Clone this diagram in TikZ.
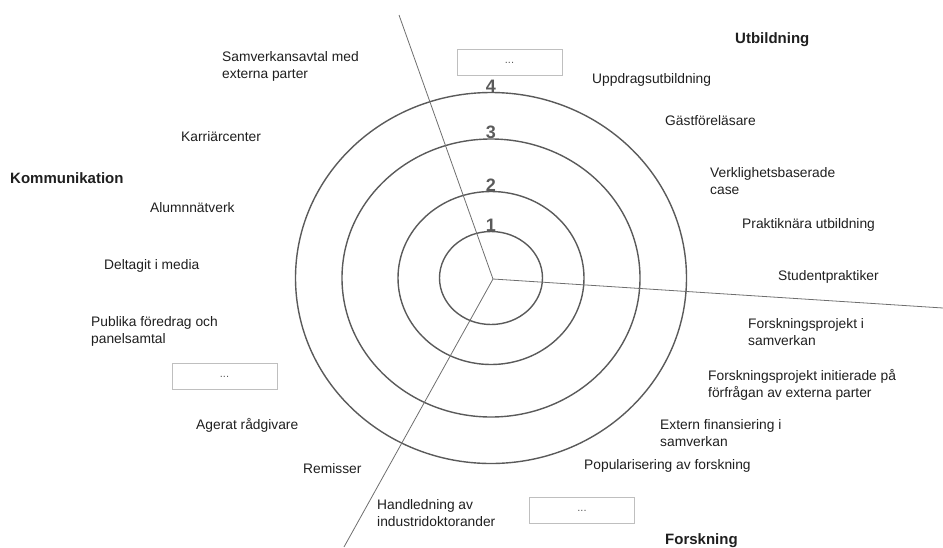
\documentclass[tikz,border=0pt]{standalone}
\usepackage{fontspec}
\setmainfont{Liberation Sans}
\usetikzlibrary{positioning,shapes.geometric}

\definecolor{ringgray}{HTML}{5A5A5A}
\definecolor{linegray}{HTML}{6E6E6E}
\definecolor{boxgray}{HTML}{BFBFBF}

\begin{document}
\begin{tikzpicture} [x=1pt,y=-1pt,
  every node/.style={font=\fontsize{13.8}{17}\selectfont, text=black!88},
  ring/.style={draw=ringgray, line width=1.4pt, ellipse, inner sep=0pt},
  level/.style={font=\fontsize{18}{18}\selectfont\bfseries, text=ringgray, inner sep=0pt},
  sector/.style={draw=linegray, line width=0.8pt},
  item/.style={anchor=west, align=left, inner sep=0pt},
  head/.style={item, font=\fontsize{15}{17}\selectfont\bfseries},
  dots/.style={draw=boxgray, line width=0.8pt, minimum width=105, minimum height=26,
               font=\fontsize{11}{11}\selectfont, text=black!65}]

  \useasboundingbox (0,0) rectangle (943,547);

  % rings
  \coordinate (c) at (491,278);
  \node[ring, minimum width=391, minimum height=371] (r4) at (c) {};
  \node[ring, minimum width=298, minimum height=278] (r3) at (c) {};
  \node[ring, minimum width=186, minimum height=173] (r2) at (c) {};
  \node[ring, minimum width=103, minimum height=93]  (r1) at (c) {};

  \node[level] (n4) [above=-1pt of r4.north] {4};
  \node[level] (n3) [above=-1pt of r3.north] {3};
  \node[level] (n2) [above=-1pt of r2.north] {2};
  \node[level] (n1) [above=-1pt of r1.north] {1};

  % sectors
  \coordinate (m) at (493,279);
  \coordinate (utop) at (399,15);
  \coordinate (uright) at (943,308);
  \coordinate (ubottom) at (344,547);
  \draw[sector] (m) -- (utop);
  \draw[sector] (m) -- (uright);
  \draw[sector] (m) -- (ubottom);

  % Utbildning
  \node[head] (utb) at (735,40) {Utbildning};
  \node[dots] (boxu) at (509.5,62) {\raisebox{-2pt}{...}};
  \node[item] (uppd) at (592,80) {Uppdragsutbildning};
  \node[item] (gast) at (665,121) {Gästföreläsare};
  \node[item] (verk) at (710,181) {Verklighetsbaserade\\case};
  \node[item] (prak) at (742,225) {Praktiknära utbildning};
  \node[item] (stud) at (778,277) {Studentpraktiker};

  % Forskning
  \node[item] (fsam) at (748,332.5) {Forskningsprojekt i\\samverkan};
  \node[item] (finit) at (708,385) {Forskningsprojekt initierade på\\förfrågan av externa parter};
  \node[item] (ext) at (660,433.5) {Extern finansiering i\\samverkan};
  \node[item] (pop) at (584,466) {Popularisering av forskning};
  \node[dots] (boxf) at (582,510) {\raisebox{-2pt}{...}};
  \node[item] (hand) at (377,513.5) {Handledning av\\industridoktorander};
  \node[head] (fors) at (665,541) {Forskning};

  % Kommunikation
  \node[item] (remi) at (303,469) {Remisser};
  \node[item] (ager) at (196,425) {Agerat rådgivare};
  \node[dots] (boxk) at (224.5,376) {\raisebox{-2pt}{...}};
  \node[item] (publ) at (91,331.5) {Publika föredrag och\\panelsamtal};
  \node[item] (delt) at (104,266) {Deltagit i media};
  \node[item] (alum) at (150,208) {Alumnnätverk};
  \node[head] (komm) at (10,178) {Kommunikation};
  \node[item] (karr) at (181,137) {Karriärcenter};
  \node[item] (samv) at (222,66) {Samverkansavtal med\\externa parter};
\end{tikzpicture}
\end{document}
